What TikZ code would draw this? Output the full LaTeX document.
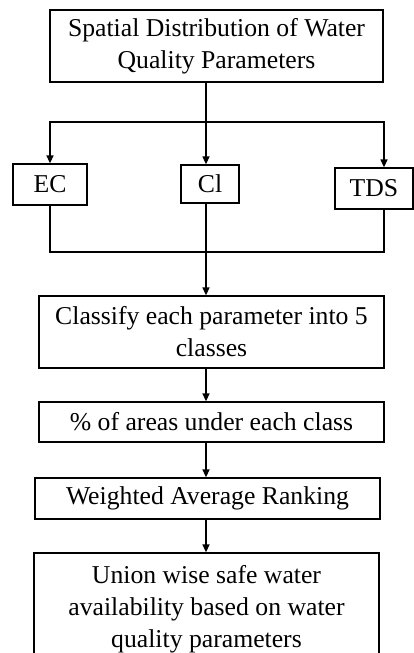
\documentclass[tikz,border=0pt]{standalone}
\usepackage{fontspec}
\setmainfont{Liberation Serif}
\usetikzlibrary{arrows.meta}
\begin{document}
\begin{tikzpicture}[x=1pt,y=-1pt,
  box/.style={draw,line width=1.3pt,align=center,inner sep=0pt,
    font=\fontsize{25.7}{32}\selectfont},
  link/.style={line width=1.3pt},
  arr/.style={link,-{Triangle[length=8pt,width=7pt]}}]
\useasboundingbox (0,0) rectangle (414,653);
% process boxes, sized by their corners
\node[box,minimum width=333pt,minimum height=72pt] (top) at (216.5,46)
  {Spatial Distribution of Water\\Quality Parameters};
\node[box,minimum width=74pt,minimum height=41pt] (ec) at (50,184.5) {EC};
\node[box,minimum width=58pt,minimum height=38pt] (cl) at (210,184) {Cl};
\node[box,minimum width=78pt,minimum height=41pt] (tds) at (374,188.5) {TDS};
\node[box,minimum width=345pt,minimum height=72pt] (cls) at (211.5,332)
  {Classify each parameter into 5\\classes};
\node[box,minimum width=345pt,minimum height=40pt] (pct) at (211.5,422)
  {\% of areas under each class};
\node[box,minimum width=345pt,minimum height=41pt] (wav) at (207.5,498.5)
  {Weighted Average Ranking};
\node[box,minimum width=345pt,minimum height=112pt] (uni) at (206.5,609)
  {Union wise safe water\\availability based on water\\quality parameters};
% branch and merge points of the parameter split
\coordinate (sp) at (206,122);
\coordinate (mg) at (206,252);
\draw[link] (top.south -| sp) -- (sp);
\draw[arr] (sp) -| (ec.north);
\draw[arr] (sp) -- (cl.north -| sp);
\draw[arr] (sp) -| ([xshift=10pt]tds.north);
\draw[link] (ec.south) |- (mg) -| ([xshift=10pt]tds.south);
\draw[link] (cl.south -| mg) -- (mg);
\draw[arr] (mg) -- (cls.north -| mg);
\draw[arr] (cls.south -| mg) -- (pct.north -| mg);
\draw[arr] (pct.south -| mg) -- (wav.north -| mg);
\draw[arr] (wav.south -| mg) -- (uni.north -| mg);
\end{tikzpicture}
\end{document}
